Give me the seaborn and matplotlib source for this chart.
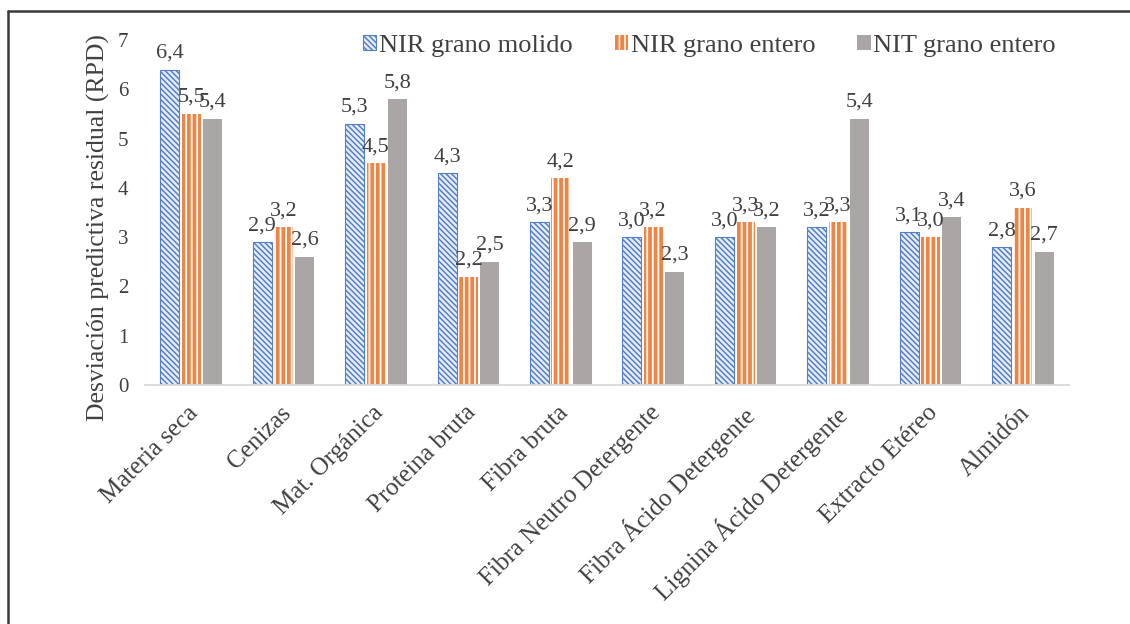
import numpy as np
import pandas as pd
import matplotlib
matplotlib.use("Agg")
import matplotlib.pyplot as plt
import matplotlib.transforms as mtransforms
from matplotlib.patches import Patch
from matplotlib.lines import Line2D
import seaborn as sns

# ---------------- data ----------------
categories = ["Materia seca", "Cenizas", "Mat. Orgánica", "Proteina bruta",
              "Fibra bruta", "Fibra Neutro Detergente", "Fibra Ácido Detergente",
              "Lignina Ácido Detergente", "Extracto Etéreo", "Almidón"]
series = ["NIR grano molido", "NIR grano entero", "NIT grano entero"]
nir_molido = [6.4, 2.9, 5.3, 4.3, 3.3, 3.0, 3.0, 3.2, 3.1, 2.8]
nir_entero = [5.5, 3.2, 4.5, 2.2, 4.2, 3.2, 3.3, 3.3, 3.0, 3.6]
nit_entero = [5.4, 2.6, 5.8, 2.5, 2.9, 2.3, 3.2, 5.4, 3.4, 2.7]
y_ticks = [0, 1, 2, 3, 4, 5, 6, 7]
y_label = "Desviación predictiva residual (RPD)"

values = [nir_molido, nir_entero, nit_entero]
df = pd.DataFrame({
    "cat": np.tile(categories, 3),
    "serie": np.repeat(series, len(categories)),
    "val": np.concatenate(values),
})

# ---------------- style ----------------
sns.set_theme(style="white")
plt.rcParams["font.family"] = ["Liberation Serif", "DejaVu Serif"]
plt.rcParams["hatch.linewidth"] = 1.1
txt_color = "#404040"

blue_line = "#5680C6"
blue_face = "#E6EDF8"
orange_face = "#EF8545"
gray_face = "#ABA6A6"
palette = {series[0]: blue_face, series[1]: orange_face, series[2]: gray_face}
blue_hatch = "\\" * 6

W, H = 1130, 624
fig = plt.figure(figsize=(W / 100, H / 100), dpi=100)
fig.patch.set_facecolor("white")
ax = fig.add_axes([145 / W, 1 - 385 / H, 924 / W, 345 / H])

sns.barplot(data=df, x="cat", y="val", hue="serie", hue_order=series,
            order=categories, palette=palette, width=0.69, gap=0.11,
            saturation=1, legend=False, ax=ax, errorbar=None)

styles = [
    dict(face=blue_face, edge=blue_line, hatch=blue_hatch, lw=0.8, hlw=1.1),
    dict(face=orange_face, edge="white", hatch="|||", lw=0.0, hlw=1.3),
    dict(face=gray_face, edge=gray_face, hatch=None, lw=0.0, hlw=1.0),
]
for cont, st, vals in zip(ax.containers, styles, values):
    for p in cont:
        p.set_facecolor(st["face"])
        p.set_edgecolor(st["edge"])
        p.set_linewidth(st["lw"])
        if st["hatch"]:
            p.set_hatch(st["hatch"])
            if hasattr(p, "set_hatch_linewidth"):
                p.set_hatch_linewidth(st["hlw"])
    ax.bar_label(cont, labels=[f"{v:.1f}".replace(".", ",") for v in vals],
                 padding=5, fontsize=16, color=txt_color)

ax.set_ylim(0, 7)
ax.set_xlim(-0.5, len(categories) - 0.5)
ax.set_yticks(y_ticks)
ax.set_yticklabels([str(t) for t in y_ticks], fontsize=15, color=txt_color)
ax.tick_params(axis="y", length=0, pad=12)
ax.tick_params(axis="x", length=0, pad=2)
ax.set_xlabel("")
ax.set_ylabel(y_label, fontsize=18.5, color=txt_color)
ax.yaxis.set_label_coords(-0.038, 0.455)

offset = mtransforms.ScaledTranslation(-3 / 72, -10 / 72, fig.dpi_scale_trans)
for lab in ax.get_xticklabels():
    lab.set_rotation(45)
    lab.set_ha("right")
    lab.set_va("top")
    lab.set_rotation_mode("anchor")
    lab.set_fontsize(18)
    lab.set_color(txt_color)
    lab.set_transform(lab.get_transform() + offset)

for s in ["top", "right", "left"]:
    ax.spines[s].set_visible(False)
ax.spines["bottom"].set_color("#D9D9D9")
ax.spines["bottom"].set_linewidth(1.3)
ax.grid(False)

handles = [
    Patch(facecolor=blue_face, edgecolor=blue_line, hatch=blue_hatch, linewidth=0.8),
    Patch(facecolor=orange_face, edgecolor="white", hatch="|||", linewidth=0),
    Patch(facecolor=gray_face, edgecolor=gray_face, linewidth=0),
]
leg = ax.legend(handles, series, loc="center left",
                bbox_to_anchor=(363 / W, 1 - 46 / H), bbox_transform=fig.transFigure,
                ncol=3, frameon=False, fontsize=19, handlelength=0.5,
                handleheight=0.5, handletextpad=0.1, columnspacing=1.6,
                borderpad=0, borderaxespad=0)
for t in leg.get_texts():
    t.set_color(txt_color)

# outer frame (top and left edges)
fig.add_artist(Line2D([8 / W, 8 / W], [0, 1 - 11 / H], transform=fig.transFigure,
                      color="#3a3a3a", lw=1.8))
fig.add_artist(Line2D([8 / W, 1], [1 - 11 / H, 1 - 11 / H], transform=fig.transFigure,
                      color="#3a3a3a", lw=1.8))

fig.savefig("out.png", dpi=100, facecolor="white")
